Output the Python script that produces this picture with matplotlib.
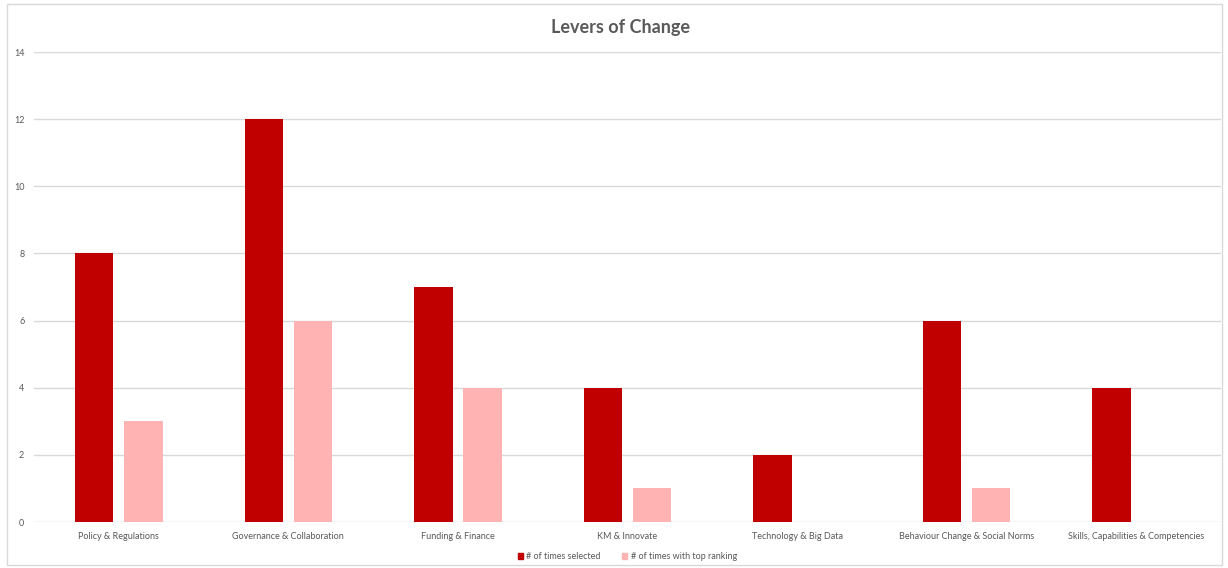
import matplotlib
matplotlib.use("Agg")
import matplotlib.pyplot as plt
import matplotlib.patches as mpatches
import numpy as np

categories = ['Policy & Regulations',
              'Governance & Collaboration',
              'Funding & Finance',
              'KM & Innovate',
              'Technology & Big Data',
              'Behaviour Change & Social Norms',
              'Skills, Capabilities & Competencies']
times_selected = [8, 12, 7, 4, 2, 6, 4]
top_ranking = [3, 6, 4, 1, 0, 1, 0]

dark = '#C00000'
pink = '#FFB3B3'
text_grey = '#595959'

plt.rcParams['font.family'] = ['Lato', 'DejaVu Sans']

fig = plt.figure(figsize=(12.28, 5.68), dpi=100)
ax = fig.add_axes([34 / 1228, 1 - 522 / 568, (1221 - 34) / 1228, (522 - 52) / 568])

x = np.arange(len(categories))
w = 0.226
off = 0.145
ax.bar(x - off, times_selected, w, color=dark, label='# of times selected', zorder=3)
ax.bar(x + off, top_ranking, w, color=pink, label='# of times with top ranking', zorder=3)

ax.set_xlim(-0.5, len(categories) - 0.5)
ax.set_ylim(0, 14)
ax.set_yticks(range(0, 15, 2))
ax.set_xticks(x)
ax.set_xticklabels(categories)
ax.tick_params(axis='both', length=0, labelsize=6.5, colors=text_grey, pad=7)
ax.tick_params(axis='x', pad=7.5)
ax.grid(axis='y', color='#D9D9D9', linewidth=1, zorder=0)
for s in ax.spines.values():
    s.set_visible(False)

fig.text(0.505, 1 - 27 / 568, 'Levers of Change', ha='center', va='center',
         fontsize=13, fontweight='bold', color=text_grey)

handles = [mpatches.Rectangle((0, 0), 1, 1, color=dark),
           mpatches.Rectangle((0, 0), 1, 1, color=pink)]
ax.legend(handles, ['# of times selected', '# of times with top ranking'],
          loc='center', bbox_to_anchor=(0.5, -0.074), ncol=2, frameon=False,
          fontsize=6.5, labelcolor=text_grey, handlelength=0.55, handleheight=0.55,
          handletextpad=0.4, columnspacing=2.4)

# outer chart frame
fig.patches.append(mpatches.Rectangle((7 / 1228, 3 / 568), 1215 / 1228, 561 / 568,
                                      transform=fig.transFigure, fill=False,
                                      edgecolor='#D9D9D9', linewidth=1))

fig.savefig('out.png', dpi=100)
